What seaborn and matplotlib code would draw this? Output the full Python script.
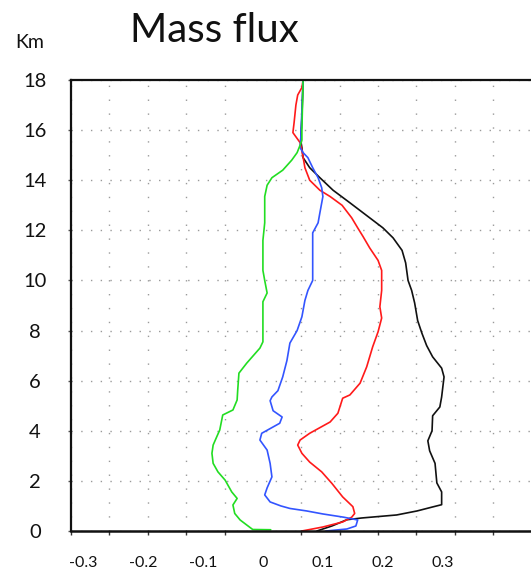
import matplotlib
matplotlib.use("Agg")
import matplotlib.pyplot as plt
from matplotlib.ticker import MultipleLocator, FixedLocator
import seaborn as sns
import pandas as pd

# Vertical mass-flux profiles (height in km, flux in model units)
black_km = [0.0, 0.2, 0.45, 0.52, 0.64, 0.8, 0.96, 1.05, 1.56, 1.92, 2.7, 3.2, 3.6, 4.0,
            4.6, 4.95, 5.35, 6.15, 6.5, 6.95, 7.4, 7.9, 8.4, 9.1, 9.6, 10.0, 10.7, 11.2,
            11.7, 12.1, 12.5, 13.1, 13.6, 14.1, 14.5, 14.9, 15.3, 15.6, 16.5, 18.0]
black_flux = [0.09, 0.115, 0.14, 0.165, 0.223, 0.257, 0.283, 0.298, 0.298, 0.29, 0.287,
              0.278, 0.275, 0.282, 0.283, 0.295, 0.298, 0.302, 0.298, 0.283, 0.273, 0.265,
              0.258, 0.253, 0.248, 0.242, 0.238, 0.232, 0.217, 0.2, 0.178, 0.145, 0.117,
              0.095, 0.078, 0.067, 0.065, 0.063, 0.065, 0.067]

red_km = [0.0, 0.16, 0.36, 0.55, 0.7, 0.97, 1.36, 1.9, 2.36, 2.75, 3.1, 3.43, 3.63, 3.9,
          4.35, 4.7, 5.3, 5.43, 5.9, 6.55, 7.35, 7.95, 8.5, 8.95, 9.6, 10.4, 10.8, 11.3,
          11.75, 12.1, 12.5, 13.0, 13.35, 13.6, 14.0, 14.5, 15.2, 15.5, 15.9, 16.3, 17.0,
          17.4, 17.7, 18.0]
red_flux = [0.065, 0.1, 0.133, 0.148, 0.153, 0.15, 0.133, 0.115, 0.098, 0.078, 0.065, 0.058,
            0.062, 0.078, 0.112, 0.125, 0.133, 0.145, 0.162, 0.173, 0.183, 0.192, 0.198,
            0.195, 0.198, 0.198, 0.192, 0.178, 0.167, 0.158, 0.148, 0.132, 0.112, 0.095,
            0.078, 0.07, 0.065, 0.062, 0.05, 0.052, 0.055, 0.058, 0.065, 0.067]

blue_km = [0.0, 0.08, 0.2, 0.44, 0.55, 0.68, 0.8, 0.9, 1.0, 1.16, 1.44, 1.72, 2.16, 2.7,
           3.23, 3.63, 3.9, 4.3, 4.55, 4.8, 5.2, 5.35, 5.6, 6.15, 6.8, 7.5, 8.0, 8.55, 9.2,
           9.6, 10.0, 10.5, 11.9, 12.3, 12.7, 13.35, 13.7, 14.1, 14.5, 14.9, 15.1, 15.3,
           15.6, 18.0]
blue_flux = [0.105, 0.14, 0.155, 0.158, 0.135, 0.1, 0.073, 0.045, 0.03, 0.012, 0.003, 0.007,
             0.015, 0.012, 0.007, -0.005, -0.002, 0.028, 0.032, 0.017, 0.012, 0.015, 0.025,
             0.033, 0.04, 0.045, 0.057, 0.065, 0.07, 0.075, 0.083, 0.083, 0.083, 0.092,
             0.095, 0.1, 0.098, 0.092, 0.083, 0.075, 0.067, 0.062, 0.063, 0.067]

green_km = [0.05, 0.06, 0.24, 0.44, 0.7, 1.04, 1.3, 1.56, 2.03, 2.36, 2.7, 3.1, 3.43, 3.76,
            4.03, 4.63, 4.83, 5.23, 5.63, 6.3, 6.7, 7.3, 7.55, 8.4, 9.15, 9.5, 10.0, 10.4,
            11.6, 12.3, 13.35, 13.8, 14.1, 14.4, 14.8, 15.1, 15.4, 15.6, 16.0, 18.0]
green_flux = [0.013, -0.017, -0.027, -0.038, -0.047, -0.05, -0.043, -0.052, -0.063, -0.075,
              -0.083, -0.085, -0.083, -0.077, -0.072, -0.067, -0.05, -0.043, -0.042, -0.04,
              -0.027, -0.005, 0.0, 0.0, 0.0, 0.007, 0.003, 0.0, 0.0, 0.003, 0.003, 0.007,
              0.015, 0.033, 0.048, 0.057, 0.062, 0.065, 0.065, 0.067]

x_tick_values = [-0.3, -0.2, -0.1, 0, 0.1, 0.2, 0.3]
x_tick_labels = ["-0.3", "-0.2", "-0.1", "0", "0.1", "0.2", "0.3"]
y_tick_values = [0, 2, 4, 6, 8, 10, 12, 14, 16, 18]

series = {
    "black": (black_km, black_flux),
    "red": (red_km, red_flux),
    "blue": (blue_km, blue_flux),
    "green": (green_km, green_flux),
}
frames = []
for name, (km, flux) in series.items():
    frames.append(pd.DataFrame({"km": km, "flux": flux, "run": name}))
df = pd.concat(frames, ignore_index=True)

palette = {"black": "#111111", "red": "#ff1a1a", "blue": "#3355ff", "green": "#22dd22"}

sns.set_style("white")
plt.rcParams["font.family"] = ["Lato", "DejaVu Sans"]

fig = plt.figure(figsize=(5.31, 5.69), dpi=100)
ax = fig.add_axes([71 / 531, 38 / 569, 460 / 531, 451 / 569])

sns.lineplot(data=df, x="flux", y="km", hue="run", palette=palette, sort=False,
             estimator=None, linewidth=1.2, legend=False, ax=ax)

ax.set_xlim(-0.32, 0.447)
ax.set_ylim(0, 18)
ax.set_xlabel("")
ax.set_ylabel("")

# labelled ticks without marks; tick marks and dotted grid on the minor locator
ax.xaxis.set_major_locator(FixedLocator(x_tick_values))
ax.set_xticklabels(x_tick_labels)
ax.xaxis.set_minor_locator(MultipleLocator(0.064))
ax.yaxis.set_major_locator(FixedLocator(y_tick_values))
ax.tick_params(axis="x", which="major", length=0, pad=18, labelsize=11.5, colors="#111111")
ax.tick_params(axis="x", which="minor", length=3, width=1, direction="out",
               bottom=True, color="#333333")
ax.tick_params(axis="y", which="major", length=2, width=1, pad=24, labelsize=14.5,
               left=True, color="#555555", labelcolor="#111111")
for lab in ax.get_yticklabels():
    lab.set_horizontalalignment("center")

ax.grid(False)
ax.grid(which="minor", axis="x", color="#9a9a9a", linestyle=(0, (1, 9)), linewidth=1.0)
ax.grid(which="major", axis="y", color="#9a9a9a", linestyle=(0, (1, 6)), linewidth=1.0)
ax.set_axisbelow(True)

ax.spines["right"].set_visible(False)
for side, lw in (("left", 1.6), ("bottom", 1.8), ("top", 1.6)):
    ax.spines[side].set_visible(True)
    ax.spines[side].set_color("#111111")
    ax.spines[side].set_linewidth(lw)

fig.text(214 / 531, 1 - 30 / 569, "Mass flux", ha="center", va="center",
         fontsize=29, color="#111111")
fig.text(30 / 531, 1 - 43 / 569, "Km", ha="center", va="center",
         fontsize=14, color="#111111")

fig.savefig("out.png", dpi=100)
